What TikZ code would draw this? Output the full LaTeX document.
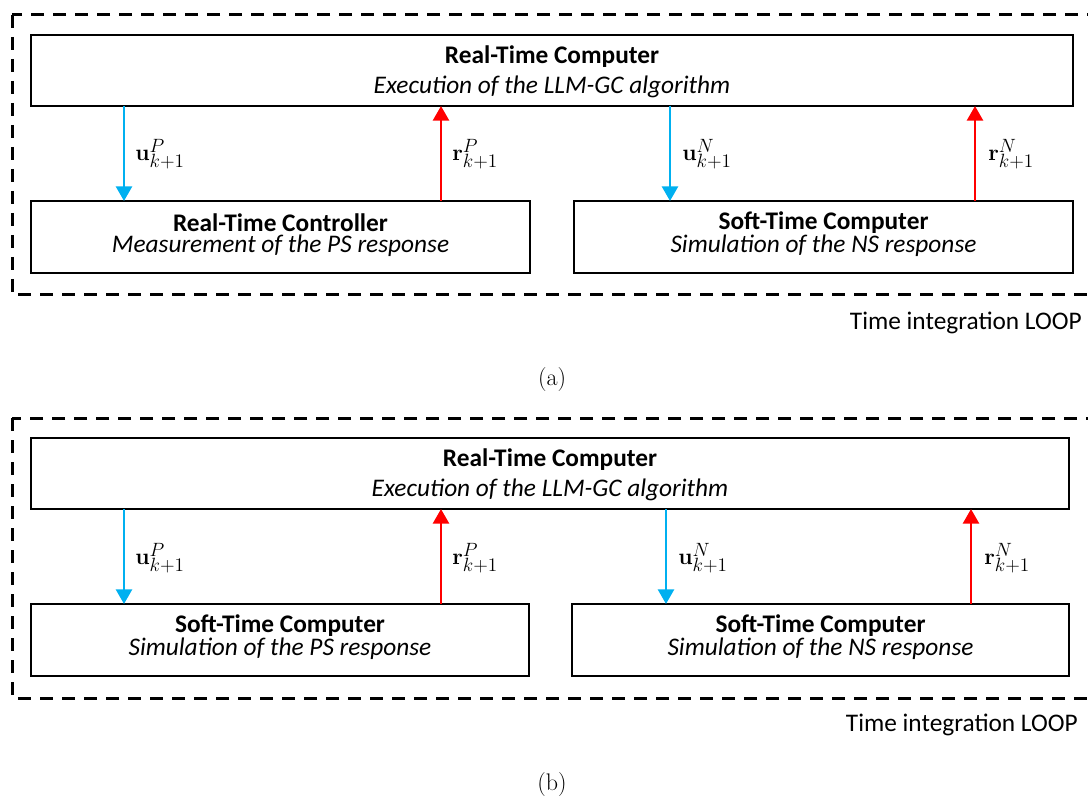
\documentclass[tikz,border=0pt]{standalone}
\usepackage[no-math]{fontspec}
\newfontfamily\diafont{Carlito}
\DeclareMathSizes{17}{17}{14}{11}
\usetikzlibrary{arrows.meta}
\definecolor{ublue}{RGB}{0,176,240}
\definecolor{rred}{RGB}{255,0,0}

\begin{document}
\begin{tikzpicture}[x=0.75pt,y=-0.75pt,
  blk/.style={draw, line width=2.1pt, inner sep=0pt, outer sep=0pt, anchor=north west},
  loopbox/.style={draw, line width=2.25pt, dash pattern=on 9.75pt off 6.75pt},
  ttl/.style={font=\diafont\fontsize{19}{22}\selectfont\bfseries, inner sep=0pt},
  sub/.style={font=\diafont\fontsize{19}{22}\selectfont\itshape, inner sep=0pt},
  looptxt/.style={font=\diafont\fontsize{19}{22}\selectfont, inner sep=0pt, anchor=east},
  lbl/.style={font=\fontsize{17}{20}\selectfont, inner sep=0pt, anchor=west},
  captxt/.style={font=\fontsize{18}{21}\selectfont, inner sep=0pt},
  uarrow/.style={draw=ublue, line width=2pt, -{Triangle[width=12pt,length=11pt]}},
  rarrow/.style={draw=rred, line width=2pt, -{Triangle[width=12pt,length=11pt]}}]
  \useasboundingbox (0,0) rectangle (1088,798);

  % ---------- (a) ----------
  \draw[loopbox] (12,15) rectangle (1090,295);
  \node[blk, minimum width=781.5pt, minimum height=53.25pt] (atop) at (31,35) {};
  \node[blk, minimum width=374.25pt, minimum height=54pt] (aleft) at (31,201) {};
  \node[blk, minimum width=374.25pt, minimum height=54pt] (aright) at (574,201) {};

  \node[ttl] (atopt) at (552,57) {Real-Time Computer};
  \node[sub] (atops) at (552,87) {Execution of the LLM-GC algorithm};
  \node[ttl] (alt) at (280.5,223) {Real-Time Controller};
  \node[sub] (als) at (280.5,246) {Measurement of the PS response};
  \node[ttl] (art) at (823.5,223) {Soft-Time Computer};
  \node[sub] (ars) at (823.5,246) {Simulation of the NS response};

  \coordinate (au1) at (124,0);
  \coordinate (ar1) at (441,0);
  \coordinate (au2) at (670,0);
  \coordinate (ar2) at (975,0);
  \draw[uarrow] (atop.south -| au1) -- (aleft.north -| au1);
  \draw[rarrow] (aleft.north -| ar1) -- (atop.south -| ar1);
  \draw[uarrow] (atop.south -| au2) -- (aright.north -| au2);
  \draw[rarrow] (aright.north -| ar2) -- (atop.south -| ar2);

  \node[lbl] (alu1) at (135,154) {$\mathbf{u}^{P}_{k+1}$};
  \node[lbl] (alr1) at (452,154) {$\mathbf{r}^{P}_{k+1}$};
  \node[lbl] (alu2) at (682,154) {$\mathbf{u}^{N}_{k+1}$};
  \node[lbl] (alr2) at (988,154) {$\mathbf{r}^{N}_{k+1}$};

  \node[looptxt] (aloop) at (1082,323) {Time integration LOOP};
  \node[captxt] (acap) at (552,380) {(a)};

  % ---------- (b) ----------
  \draw[loopbox] (12,418) rectangle (1089.5,698);
  \node[blk, minimum width=778.5pt, minimum height=53.25pt] (btop) at (31,438) {};
  \node[blk, minimum width=373.5pt, minimum height=54pt] (bleft) at (31,604) {};
  \node[blk, minimum width=372.75pt, minimum height=54pt] (bright) at (572,604) {};

  \node[ttl] (btopt) at (550,460) {Real-Time Computer};
  \node[sub] (btops) at (550,490) {Execution of the LLM-GC algorithm};
  \node[ttl] (blt) at (280,626) {Soft-Time Computer};
  \node[sub] (bls) at (280,649) {Simulation of the PS response};
  \node[ttl] (brt) at (820.5,626) {Soft-Time Computer};
  \node[sub] (brs) at (820.5,649) {Simulation of the NS response};

  \coordinate (bu1) at (124,0);
  \coordinate (br1) at (441,0);
  \coordinate (bu2) at (666,0);
  \coordinate (br2) at (971,0);
  \draw[uarrow] (btop.south -| bu1) -- (bleft.north -| bu1);
  \draw[rarrow] (bleft.north -| br1) -- (btop.south -| br1);
  \draw[uarrow] (btop.south -| bu2) -- (bright.north -| bu2);
  \draw[rarrow] (bright.north -| br2) -- (btop.south -| br2);

  \node[lbl] (blu1) at (135,558) {$\mathbf{u}^{P}_{k+1}$};
  \node[lbl] (blr1) at (452,558) {$\mathbf{r}^{P}_{k+1}$};
  \node[lbl] (blu2) at (678,558) {$\mathbf{u}^{N}_{k+1}$};
  \node[lbl] (blr2) at (984,558) {$\mathbf{r}^{N}_{k+1}$};

  \node[looptxt] (bloop) at (1078,725) {Time integration LOOP};
  \node[captxt] (bcap) at (552,785) {(b)};
\end{tikzpicture}
\end{document}
